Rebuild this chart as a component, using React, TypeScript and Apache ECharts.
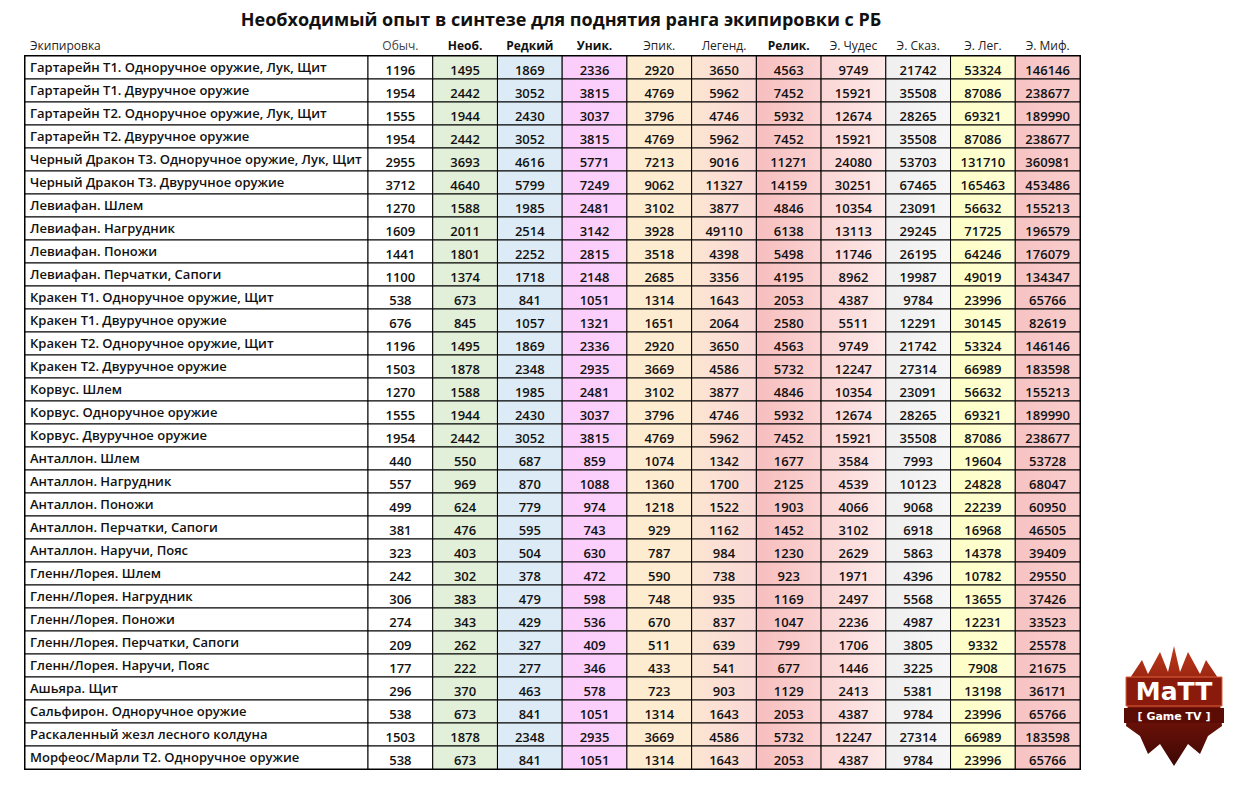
import React, { useEffect, useRef } from "react";
import * as echarts from "echarts";

const title = "Необходимый опыт в синтезе для поднятия ранга экипировки с РБ";
const nameHeader = "Экипировка";
const headers = ["Обыч.", "Необ.", "Редкий", "Уник.", "Эпик.", "Легенд.", "Релик.", "Э. Чудес", "Э. Сказ.", "Э. Лег.", "Э. Миф."];

const items = [
  "Гартарейн Т1. Одноручное оружие, Лук, Щит",
  "Гартарейн Т1. Двуручное оружие",
  "Гартарейн Т2. Одноручное оружие, Лук, Щит",
  "Гартарейн Т2. Двуручное оружие",
  "Черный Дракон Т3. Одноручное оружие, Лук, Щит",
  "Черный Дракон Т3. Двуручное оружие",
  "Левиафан. Шлем",
  "Левиафан. Нагрудник",
  "Левиафан. Поножи",
  "Левиафан. Перчатки, Сапоги",
  "Кракен Т1. Одноручное оружие, Щит",
  "Кракен Т1. Двуручное оружие",
  "Кракен Т2. Одноручное оружие, Щит",
  "Кракен Т2. Двуручное оружие",
  "Корвус. Шлем",
  "Корвус. Одноручное оружие",
  "Корвус. Двуручное оружие",
  "Анталлон. Шлем",
  "Анталлон. Нагрудник",
  "Анталлон. Поножи",
  "Анталлон. Перчатки, Сапоги",
  "Анталлон. Наручи, Пояс",
  "Гленн/Лорея. Шлем",
  "Гленн/Лорея. Нагрудник",
  "Гленн/Лорея. Поножи",
  "Гленн/Лорея. Перчатки, Сапоги",
  "Гленн/Лорея. Наручи, Пояс",
  "Ашьяра. Щит",
  "Сальфирон. Одноручное оружие",
  "Раскаленный жезл лесного колдуна",
  "Морфеос/Марли Т2. Одноручное оружие",
];

const obych = [1196, 1954, 1555, 1954, 2955, 3712, 1270, 1609, 1441, 1100, 538, 676, 1196, 1503, 1270, 1555, 1954, 440, 557, 499, 381, 323, 242, 306, 274, 209, 177, 296, 538, 1503, 538];
const neob = [1495, 2442, 1944, 2442, 3693, 4640, 1588, 2011, 1801, 1374, 673, 845, 1495, 1878, 1588, 1944, 2442, 550, 969, 624, 476, 403, 302, 383, 343, 262, 222, 370, 673, 1878, 673];
const redkiy = [1869, 3052, 2430, 3052, 4616, 5799, 1985, 2514, 2252, 1718, 841, 1057, 1869, 2348, 1985, 2430, 3052, 687, 870, 779, 595, 504, 378, 479, 429, 327, 277, 463, 841, 2348, 841];
const unik = [2336, 3815, 3037, 3815, 5771, 7249, 2481, 3142, 2815, 2148, 1051, 1321, 2336, 2935, 2481, 3037, 3815, 859, 1088, 974, 743, 630, 472, 598, 536, 409, 346, 578, 1051, 2935, 1051];
const epik = [2920, 4769, 3796, 4769, 7213, 9062, 3102, 3928, 3518, 2685, 1314, 1651, 2920, 3669, 3102, 3796, 4769, 1074, 1360, 1218, 929, 787, 590, 748, 670, 511, 433, 723, 1314, 3669, 1314];
const legend = [3650, 5962, 4746, 5962, 9016, 11327, 3877, 49110, 4398, 3356, 1643, 2064, 3650, 4586, 3877, 4746, 5962, 1342, 1700, 1522, 1162, 984, 738, 935, 837, 639, 541, 903, 1643, 4586, 1643];
const relik = [4563, 7452, 5932, 7452, 11271, 14159, 4846, 6138, 5498, 4195, 2053, 2580, 4563, 5732, 4846, 5932, 7452, 1677, 2125, 1903, 1452, 1230, 923, 1169, 1047, 799, 677, 1129, 2053, 5732, 2053];
const eChudes = [9749, 15921, 12674, 15921, 24080, 30251, 10354, 13113, 11746, 8962, 4387, 5511, 9749, 12247, 10354, 12674, 15921, 3584, 4539, 4066, 3102, 2629, 1971, 2497, 2236, 1706, 1446, 2413, 4387, 12247, 4387];
const eSkaz = [21742, 35508, 28265, 35508, 53703, 67465, 23091, 29245, 26195, 19987, 9784, 12291, 21742, 27314, 23091, 28265, 35508, 7993, 10123, 9068, 6918, 5863, 4396, 5568, 4987, 3805, 3225, 5381, 9784, 27314, 9784];
const eLeg = [53324, 87086, 69321, 87086, 131710, 165463, 56632, 71725, 64246, 49019, 23996, 30145, 53324, 66989, 56632, 69321, 87086, 19604, 24828, 22239, 16968, 14378, 10782, 13655, 12231, 9332, 7908, 13198, 23996, 66989, 23996];
const eMif = [146146, 238677, 189990, 238677, 360981, 453486, 155213, 196579, 176079, 134347, 65766, 82619, 146146, 183598, 155213, 189990, 238677, 53728, 68047, 60950, 46505, 39409, 29550, 37426, 33523, 25578, 21675, 36171, 65766, 183598, 65766];

const columns = [obych, neob, redkiy, unik, epik, legend, relik, eChudes, eSkaz, eLeg, eMif];

// styling
const colFills: [string, string][] = [
  ["#ffffff", "#ffffff"],
  ["#e2efd9", "#e2efd9"],
  ["#ddebf7", "#ddebf7"],
  ["#fbcdfb", "#fbd0fb"],
  ["#fdeccf", "#fdecd2"],
  ["#fce5d2", "#fad8d6"],
  ["#f7bebe", "#fbd2d2"],
  ["#fbd5d5", "#fde8e8"],
  ["#efefef", "#f6f6f6"],
  ["#fefec6", "#fefed6"],
  ["#f7c3c3", "#f9cdcd"],
];
const boldHeaders = new Set([1, 2, 3, 6]);
const FONT = '"Open Sans", "Noto Sans", sans-serif';

export default function App() {
  const ref = useRef<HTMLDivElement>(null);
  useEffect(() => {
    if (!ref.current) return;
    const chart = echarts.init(ref.current, undefined, { renderer: "svg" });

    const cellData: any[] = [];
    columns.forEach((col, ci) => col.forEach((v, ri) => cellData.push([ci, ri, v])));
    const nameData = items.map((n, i) => [0, i, n]);

    const logo = {
      type: "group",
      x: 1122,
      y: 646,
      z: 300,
      children: [
        {
          type: "polygon",
          shape: {
            points: [
              [8, 32], [20, 14], [26, 28], [38, 6], [46, 26], [52, 0], [58, 26], [66, 6], [78, 28], [84, 14], [96, 32],
              [100, 80], [86, 90], [78, 108], [66, 98], [52, 120], [38, 98], [26, 108], [18, 90], [4, 80],
            ],
          },
          style: {
            fill: new echarts.graphic.LinearGradient(0, 0, 0, 1, [
              { offset: 0, color: "#c0391b" },
              { offset: 0.5, color: "#7a1509" },
              { offset: 1, color: "#3d0704" },
            ]),
          },
        },
        { type: "rect", shape: { x: 4, y: 31, width: 96, height: 29 }, style: { fill: "#8a1a0c", stroke: "#e0603a", lineWidth: 1 } },
        {
          type: "text",
          style: { x: 52, y: 45, text: "MaTT", align: "center", verticalAlign: "middle", fill: "#ffffff", fontSize: 25, fontWeight: 900, fontFamily: '"DejaVu Sans", sans-serif' },
        },
        { type: "rect", shape: { x: 2, y: 62, width: 100, height: 15 }, style: { fill: "#5a0c05" } },
        {
          type: "text",
          style: { x: 52, y: 70, text: "[ Game TV ]", align: "center", verticalAlign: "middle", fill: "#ffffff", fontSize: 11, fontWeight: "bold", fontFamily: '"DejaVu Sans", sans-serif' },
        },
      ],
    };

    chart.setOption({
      animation: false,
      title: {
        text: title,
        left: 556,
        top: 5,
        textAlign: "center",
        textStyle: { fontSize: 18, fontWeight: "bold", color: "#111", fontFamily: FONT },
      },
      grid: [
        { left: 25, top: 56, width: 343, height: 713, show: true, borderColor: "#000", borderWidth: 2, backgroundColor: "transparent" },
        { left: 368, top: 56, width: 712, height: 713, show: true, borderColor: "#000", borderWidth: 2, backgroundColor: "transparent" },
      ],
      xAxis: [
        { type: "category", gridIndex: 0, data: [nameHeader], show: false },
        {
          type: "category",
          gridIndex: 1,
          data: headers,
          position: "top",
          axisLine: { show: false },
          axisTick: { show: false },
          axisLabel: {
            margin: 5,
            interval: 0,
            formatter: (val: string, idx: number) => (boldHeaders.has(idx) ? `{b|${val}}` : idx === 0 ? `{g|${val}}` : `{n|${val}}`),
            rich: {
              b: { fontSize: 12, fontWeight: "bold", color: "#111", fontFamily: FONT },
              n: { fontSize: 12, fontWeight: "normal", color: "#222", fontFamily: FONT },
              g: { fontSize: 12, fontWeight: "normal", color: "#444", fontFamily: FONT },
            },
          },
        },
      ],
      yAxis: [
        { type: "category", gridIndex: 0, data: items, inverse: true, show: false },
        { type: "category", gridIndex: 1, data: items, inverse: true, show: false },
      ],
      graphic: [
        {
          type: "text",
          x: 30,
          y: 45,
          style: { text: nameHeader, fill: "#222", fontSize: 12, fontFamily: FONT, verticalAlign: "middle" },
        },
        logo,
      ],
      series: [
        {
          type: "custom",
          xAxisIndex: 0,
          yAxisIndex: 0,
          data: nameData,
          renderItem: (params: any, api: any) => {
            const idx = params.dataIndex;
            const c = api.coord([0, idx]);
            const s = api.size([1, 1]);
            const x = c[0] - s[0] / 2;
            const y = c[1] - s[1] / 2;
            return {
              type: "group",
              children: [
                { type: "rect", shape: { x, y, width: s[0], height: s[1] }, style: { fill: "#ffffff", stroke: "#000", lineWidth: 1 } },
                {
                  type: "text",
                  style: { x: x + 5, y: c[1] - 1, text: items[idx], align: "left", verticalAlign: "middle", fill: "#111", fontSize: 13, fontWeight: 600, fontFamily: FONT },
                },
              ],
            };
          },
        },
        {
          type: "custom",
          xAxisIndex: 1,
          yAxisIndex: 1,
          data: cellData,
          renderItem: (params: any, api: any) => {
            const col = api.value(0);
            const row = api.value(1);
            const v = api.value(2);
            const c = api.coord([col, row]);
            const s = api.size([1, 1]);
            const x = c[0] - s[0] / 2;
            const y = c[1] - s[1] / 2;
            const f = colFills[col];
            return {
              type: "group",
              children: [
                {
                  type: "rect",
                  shape: { x, y, width: s[0], height: s[1] },
                  style: {
                    fill: new echarts.graphic.LinearGradient(0, 0, 1, 0, [
                      { offset: 0, color: f[0] },
                      { offset: 1, color: f[1] },
                    ]),
                    stroke: "#000",
                    lineWidth: 1,
                  },
                },
                {
                  type: "text",
                  style: { x: c[0], y: c[1] + 2, text: String(v), align: "center", verticalAlign: "middle", fill: "#111", fontSize: 13, fontWeight: 600, fontFamily: FONT },
                },
              ],
            };
          },
        },
      ],
    });
    return () => chart.dispose();
  }, []);
  return <div ref={ref} style={{ position: "fixed", left: 0, top: 0, width: 1241, height: 786, background: "#fff" }} />;
}
